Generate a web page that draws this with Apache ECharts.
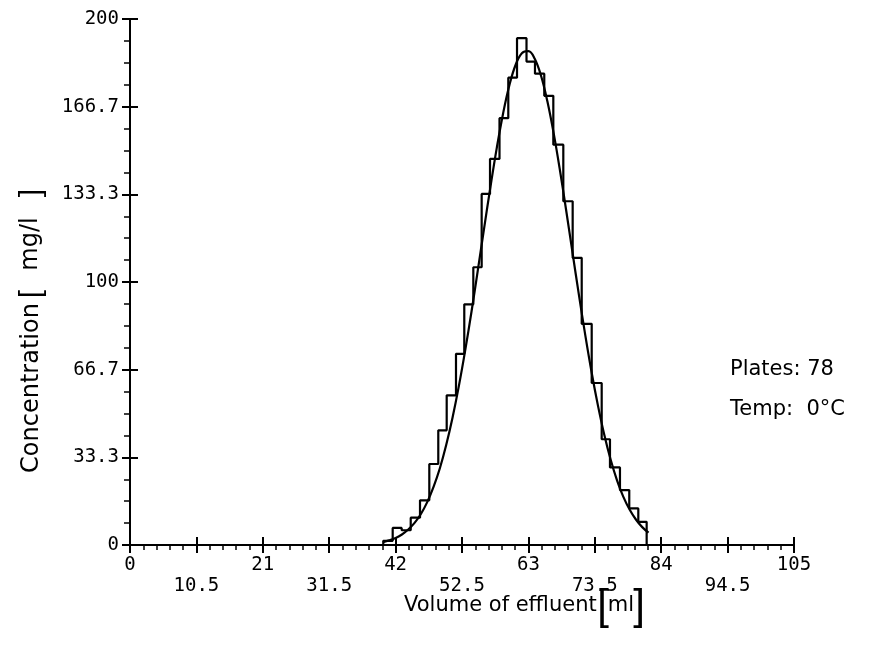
<!DOCTYPE html>
<html><head><meta charset="utf-8">
<script src="https://cdn.jsdelivr.net/npm/echarts@6.0.0/dist/echarts.min.js"></script>
<style>html,body{margin:0;padding:0;background:#fff}#c{width:871px;height:658px}</style>
</head><body><div id="c"></div>
<script>
// histogram bin edges (ml) and heights (mg/l)
const binEdges = [40.05,41.54,42.96,44.39,45.86,47.33,48.75,50.08,51.55,52.86,54.29,55.61,56.93,58.43,59.82,61.20,62.70,64.04,65.51,66.94,68.52,70.00,71.43,73.01,74.59,75.90,77.48,78.95,80.38,81.70];
const binHeights = [1.6,6.5,5.6,10.4,17.0,30.8,43.6,56.9,72.7,91.5,105.6,133.5,146.8,162.3,177.7,192.7,183.8,179.2,170.8,152.2,130.7,109.2,84.1,61.6,40.2,29.5,20.9,13.9,8.8];
// fitted elution curve
const curveX = [40,41,42,43,44,45,46,47,48,49,50,51,52,53,54,55,56,57,58,59,60,61,62,63,64,65,66,67,68,69,70,71,72,73,74,75,76,77,78,79,80,81,82];
const curveY = [1.1,1.8,2.7,4.0,5.9,8.4,11.8,16.3,22.1,29.2,38.0,48.4,60.4,73.9,88.7,104.4,120.5,136.2,151.0,164.1,174.9,182.7,187.1,187.8,184.9,178.4,168.7,156.5,142.3,126.8,110.8,94.9,79.7,65.6,53.0,41.9,32.5,24.7,18.4,13.5,9.7,6.8,4.7];
const xTickLabels = ['0','10.5','21','31.5','42','52.5','63','73.5','84','94.5','105'];
const yTickLabels = ['0','33.3','66.7','100','133.3','166.7','200'];
const xName = 'Volume of effluent';
const xUnit = 'ml';
const yName = 'Concentration';
const yUnit = 'mg/l';
const noteLines = ['Plates: 78', 'Temp:  0°C'];

const X_MAX = 105, X_INT = 10.5, Y_MAX = 200, Y_INT = 200 / 6;

const histData = [[binEdges[0], 0]];
for (let i = 0; i < binHeights.length; i++) {
  histData.push([binEdges[i], binHeights[i]]);
  histData.push([binEdges[i + 1], binHeights[i]]);
}
histData.push([binEdges[binEdges.length - 1], 0]);
const curveData = curveX.map((x, i) => [x, curveY[i]]);

const black = '#000';
const monoFont = 'DejaVu Sans Mono';
const sansFont = 'DejaVu Sans';

const chart = echarts.init(document.getElementById('c'), null, {renderer: 'canvas'});
const option = {
  animation: false,
  backgroundColor: '#fff',
  grid: {left: 130, right: 77, top: 19, bottom: 113, containLabel: false},
  xAxis: [
    {
      type: 'value', min: 0, max: X_MAX, interval: X_INT, position: 'bottom',
      axisLine: {show: true, onZero: false, lineStyle: {color: black, width: 2}},
      axisTick: {show: true, inside: false, length: 8, lineStyle: {color: black, width: 2}},
      minorTick: {show: true, splitNumber: 5, length: 5, lineStyle: {color: black, width: 1.5}},
      splitLine: {show: false}, minorSplitLine: {show: false},
      axisLabel: {
        show: true, margin: 10, color: black, fontFamily: monoFont, fontSize: 19, lineHeight: 21,
        showMinLabel: true, showMaxLabel: true,
        formatter: function (v) {
          const i = Math.round(v / X_INT);
          return i % 2 === 0 ? xTickLabels[i] : '\n' + xTickLabels[i];
        }
      }
    },
    {
      type: 'value', min: 0, max: X_MAX, interval: X_INT, position: 'bottom',
      axisLine: {show: false},
      axisTick: {show: true, inside: true, length: 8, lineStyle: {color: black, width: 2}},
      minorTick: {show: false}, splitLine: {show: false}, axisLabel: {show: false}
    }
  ],
  yAxis: [
    {
      type: 'value', min: 0, max: Y_MAX, interval: Y_INT, position: 'left',
      axisLine: {show: true, onZero: false, lineStyle: {color: black, width: 2}},
      axisTick: {show: true, inside: false, length: 8, lineStyle: {color: black, width: 2}},
      minorTick: {show: true, splitNumber: 4, length: 6, lineStyle: {color: black, width: 1.5}},
      splitLine: {show: false}, minorSplitLine: {show: false},
      axisLabel: {
        show: true, margin: 11, color: black, fontFamily: monoFont, fontSize: 19,
        showMinLabel: true, showMaxLabel: true,
        formatter: function (v) { return yTickLabels[Math.round(v / Y_INT)]; }
      }
    },
    {
      type: 'value', min: 0, max: Y_MAX, interval: Y_INT, position: 'left',
      axisLine: {show: false},
      axisTick: {show: true, inside: true, length: 8, lineStyle: {color: black, width: 2}},
      minorTick: {show: false}, splitLine: {show: false}, axisLabel: {show: false}
    }
  ],
  series: [
    {
      type: 'line', xAxisIndex: 0, yAxisIndex: 0, data: histData,
      symbol: 'none', smooth: false, lineStyle: {color: black, width: 2.2}, silent: true
    },
    {
      type: 'line', xAxisIndex: 0, yAxisIndex: 0, data: curveData,
      symbol: 'none', smooth: 0.4, lineStyle: {color: black, width: 2.2}, silent: true
    }
  ],
  graphic: [
    {type: 'text', x: 404, y: 606, style: {text: xName, font: '21px "' + sansFont + '"', fill: black, textAlign: 'left', textVerticalAlign: 'middle'}},
    {type: 'text', x: 603, y: 607, style: {text: '[', font: '42px "Liberation Sans"', fill: black, textAlign: 'center', textVerticalAlign: 'middle'}},
    {type: 'text', x: 621, y: 606, style: {text: xUnit, font: '21px "' + sansFont + '"', fill: black, textAlign: 'center', textVerticalAlign: 'middle'}},
    {type: 'text', x: 639, y: 607, style: {text: ']', font: '42px "Liberation Sans"', fill: black, textAlign: 'center', textVerticalAlign: 'middle'}},

    {type: 'text', x: 32, y: 388, rotation: Math.PI / 2, style: {text: yName, font: '24px "' + sansFont + '"', fill: black, textAlign: 'center', textVerticalAlign: 'middle'}},
    {type: 'text', x: 32, y: 294, rotation: Math.PI / 2, style: {text: '[', font: '30px "Liberation Sans"', fill: black, textAlign: 'center', textVerticalAlign: 'middle'}},
    {type: 'text', x: 31, y: 244, rotation: Math.PI / 2, style: {text: yUnit, font: '24px "' + sansFont + '"', fill: black, textAlign: 'center', textVerticalAlign: 'middle'}},
    {type: 'text', x: 32, y: 193, rotation: Math.PI / 2, style: {text: ']', font: '30px "Liberation Sans"', fill: black, textAlign: 'center', textVerticalAlign: 'middle'}},

    {type: 'text', x: 730, y: 370, style: {text: noteLines[0], font: '21px "' + sansFont + '"', fill: black, textAlign: 'left', textVerticalAlign: 'middle'}},
    {type: 'text', x: 730, y: 410, style: {text: noteLines[1], font: '21px "' + sansFont + '"', fill: black, textAlign: 'left', textVerticalAlign: 'middle'}}
  ]
};
chart.setOption(option);
</script>
</body></html>
